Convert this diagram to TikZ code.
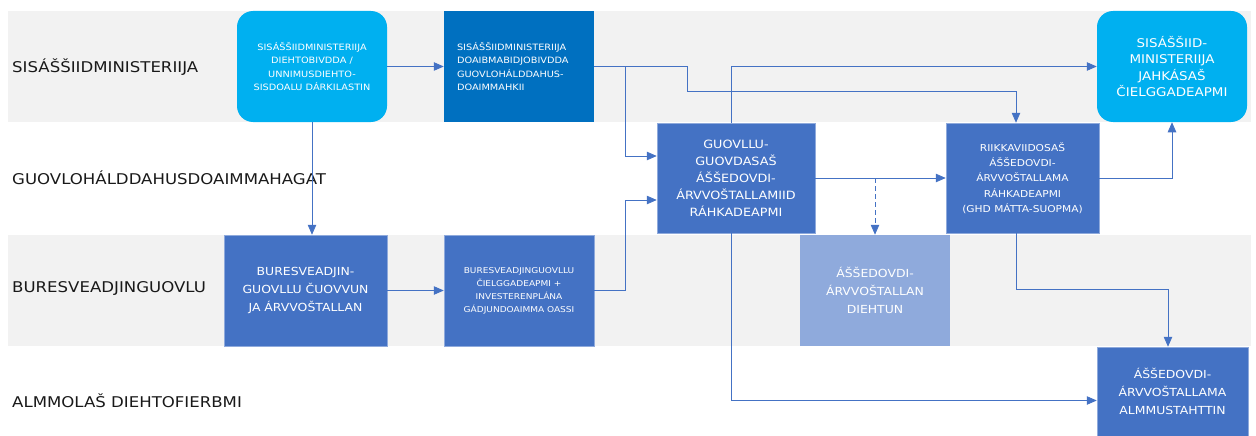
\documentclass[tikz,border=0pt]{standalone}
\usepackage{fontspec}
\setmainfont{DejaVu Sans}[FakeStretch=1.12]
\usepackage{tikz}
\usetikzlibrary{arrows.meta, positioning, calc}

\definecolor{laneGrey}{HTML}{F2F2F2}
\definecolor{skyBlue}{HTML}{00B0F0}
\definecolor{deepBlue}{HTML}{0070C0}
\definecolor{midBlue}{HTML}{4472C4}
\definecolor{paleBlue}{HTML}{8FAADC}

\begin{document}
\begin{tikzpicture}[x=1pt, y=-1pt,
    box/.style={rectangle, fill=midBlue, draw=midBlue!60!white, line width=0.5pt, text=white, align=center, inner sep=0pt, minimum width=150pt, minimum height=111pt},
    roundbox/.style={box, fill=skyBlue, draw=none, rounded corners=16pt},
    link/.style={draw=midBlue, line width=0.8pt, -{Triangle[length=10pt, width=8.5pt]}},
    lanelabel/.style={anchor=west, inner sep=0pt, font=\fontsize{14.8}{18}\selectfont, text=black!90}]

    \useasboundingbox (0,0) rectangle (1256,436);

    % Lanes
    \fill[laneGrey] (8,11) rectangle (1251,122);
    \fill[laneGrey] (8,235) rectangle (1251,346);
    \node[lanelabel] (laneMin) at (12,67) {SISÁŠŠIIDMINISTERIIJA};
    \node[lanelabel] (laneGuo) at (12,177.5) {GUOVLOHÁLDDAHUSDOAIMMAHAGAT};
    \node[lanelabel] (laneBur) at (12,288) {BURESVEADJINGUOVLU};
    \node[lanelabel] (laneAlm) at (12,401) {ALMMOLAŠ DIEHTOFIERBMI};

    % Ministry
    \node[roundbox, font=\fontsize{8.7}{13.3}\selectfont] (dieht) at (312,66.5)
        {SISÁŠŠIIDMINISTERIIJA\\DIEHTOBIVDDA /\\UNNIMUSDIEHTO-\\SISDOALU DÁRKILASTIN};
    \node[box, fill=deepBlue, draw=none, align=left, text width=124pt, font=\fontsize{8.7}{13.3}\selectfont] (doaib) at (519,66.5)
        {SISÁŠŠIIDMINISTERIIJA\\DOAIBMABIDJOBIVDDA\\GUOVLOHÁLDDAHUS-\\DOAIMMAHKII};
    \node[roundbox, font=\fontsize{12}{16.5}\selectfont] (jahk) at (1172,66.5)
        {SISÁŠŠIID-\\MINISTERIIJA\\JAHKÁSAŠ\\ČIELGGADEAPMI};

    % Regional agencies
    \node[box, minimum width=158pt, minimum height=110pt, font=\fontsize{11.4}{17}\selectfont] (guovd) at (736,178)
        {GUOVLLU-\\GUOVDASAŠ\\ÁŠŠEDOVDI-\\ÁRVVOŠTALLAMIID\\RÁHKADEAPMI};
    \node[box, minimum width=153pt, minimum height=110pt, font=\fontsize{9.5}{15.3}\selectfont] (riikk) at (1022.5,178)
        {RIIKKAVIIDOSAŠ\\ÁŠŠEDOVDI-\\ÁRVVOŠTALLAMA\\RÁHKADEAPMI\\(GHD MÁTTA-SUOPMA)};

    % Area
    \node[box, minimum width=163pt, font=\fontsize{11.1}{18}\selectfont] (cuovv) at (305.5,290.5)
        {BURESVEADJIN-\\GUOVLLU ČUOVVUN\\JA ÁRVVOŠTALLAN};
    \node[box, font=\fontsize{8.05}{13}\selectfont] (cielg) at (519,290.5)
        {BURESVEADJINGUOVLLU\\ČIELGGADEAPMI +\\INVESTERENPLÁNA\\GÁDJUNDOAIMMA OASSI};
    \node[box, fill=paleBlue, draw=none, font=\fontsize{11.1}{18}\selectfont] (diehtun) at (875,290.5)
        {ÁŠŠEDOVDI-\\ÁRVVOŠTALLAN\\DIEHTUN};

    % Public data
    \node[box, minimum width=151pt, minimum height=89pt, font=\fontsize{11.1}{18}\selectfont] (almm) at (1172.5,391.5)
        {ÁŠŠEDOVDI-\\ÁRVVOŠTALLAMA\\ALMMUSTAHTTIN};

    % Connectors
    \draw[link] (dieht.east) -- (doaib.west);
    \draw[link] (dieht.south) -- (dieht.south |- cuovv.north);
    \draw[link] (doaib.east) -- (625,66.5) |- ([yshift=22pt]guovd.west);
    \draw[link] (doaib.east) -- (687,66.5) -- (687,91) -| ([xshift=-6.5pt]riikk.north);
    \draw[link] ([xshift=-5pt]guovd.north) |- (jahk.west);
    \draw[link] (cuovv.east) -- (cielg.west);
    \draw[link] (cielg.east) -- (625,290.5) |- ([yshift=-22pt]guovd.west);
    \draw[link] (guovd.east) -- (riikk.west);
    \draw[link, dash pattern=on 5pt off 3pt] (diehtun.north |- guovd.east) -- (diehtun.north);
    \draw[link] ([xshift=-5pt]guovd.south) |- ([yshift=-9pt]almm.west);
    \draw[link] ([xshift=-6.5pt]riikk.south) -- ++(0,56) -| ([xshift=-4.5pt]almm.north);
    \draw[link] (riikk.east) -| (jahk.south);

\end{tikzpicture}
\end{document}
